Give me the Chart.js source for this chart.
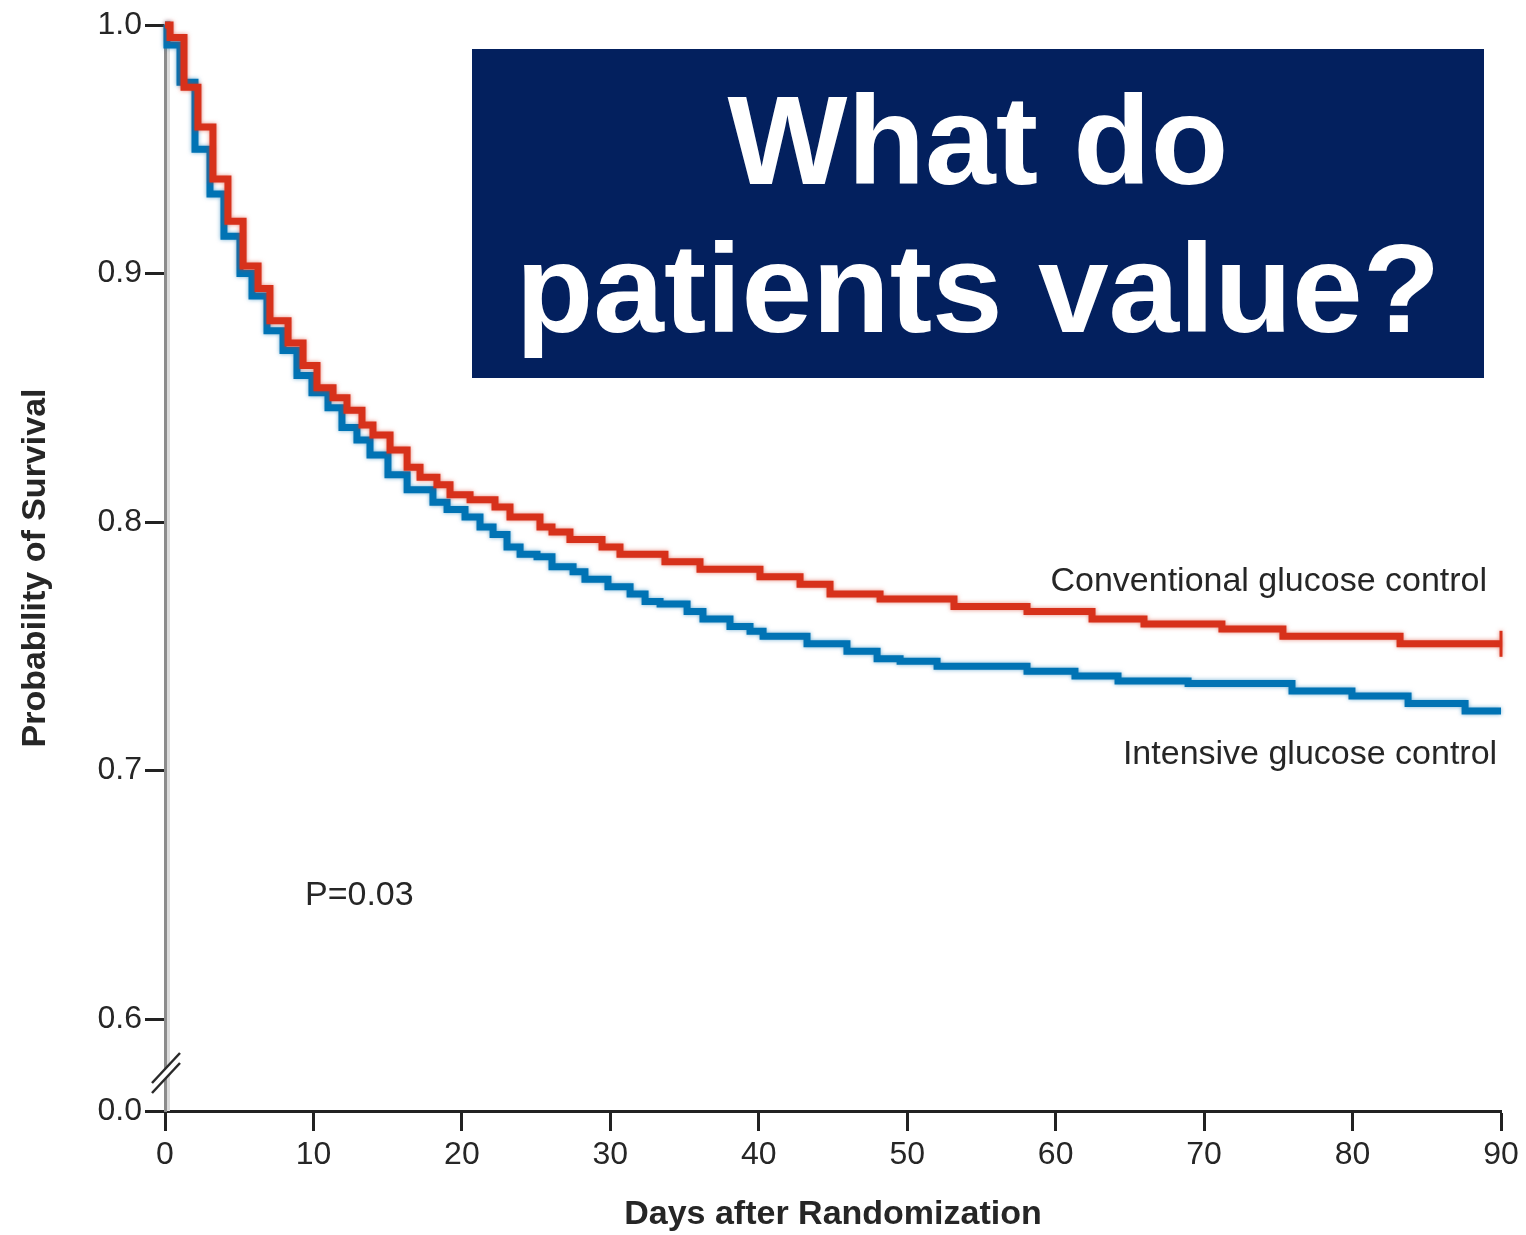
<!DOCTYPE html>
<html><head><meta charset="utf-8">
<script src="https://cdn.jsdelivr.net/npm/chart.js@4.4.1/dist/chart.umd.min.js"></script>
<style>html,body{margin:0;padding:0;background:#fff;overflow:hidden}#wrap{position:relative;width:1526px;height:1235px}</style>
</head><body><div id="wrap"><canvas id="c" width="1526" height="1235"></canvas></div>
<script>
// ---- data ----
const seriesNames = ["Conventional glucose control", "Intensive glucose control"];
const conventionalDays = [0,0.34,1.28,2.22,3.23,4.24,5.26,6.27,7.07,8.29,9.30,10.24,11.32,12.26,13.27,14.01,15.16,16.31,17.18,18.32,19.20,20.55,22.23,23.24,25.26,26.07,27.28,29.44,30.65,33.68,36.04,40.08,42.78,44.80,48.17,53.15,58.07,62.45,65.95,71.20,75.31,83.20,90];
const conventionalSurvival = [1.000,0.995,0.975,0.959,0.938,0.921,0.903,0.894,0.881,0.872,0.863,0.854,0.850,0.845,0.839,0.835,0.829,0.822,0.818,0.815,0.811,0.809,0.806,0.802,0.798,0.796,0.793,0.790,0.787,0.784,0.781,0.778,0.775,0.771,0.769,0.766,0.764,0.761,0.759,0.757,0.754,0.751,0.751];
const intensiveDays = [0,0.13,1.01,2.02,3.03,3.97,5.05,5.86,6.87,7.95,8.89,9.90,10.98,11.92,12.93,13.81,15.02,16.31,18.05,19.00,20.21,21.22,22.10,23.04,23.92,25.06,26.07,27.49,28.29,29.84,31.33,32.34,33.35,35.17,36.24,38.06,39.41,40.29,43.25,45.94,47.97,49.52,52.01,58.07,61.30,64.20,68.92,75.92,79.96,83.74,87.58,90];
const intensiveSurvival = [1.000,0.992,0.977,0.950,0.932,0.915,0.900,0.891,0.877,0.869,0.859,0.852,0.846,0.838,0.833,0.827,0.819,0.813,0.808,0.805,0.802,0.798,0.795,0.790,0.787,0.786,0.782,0.780,0.777,0.774,0.771,0.768,0.767,0.764,0.761,0.758,0.756,0.754,0.751,0.748,0.745,0.744,0.742,0.740,0.738,0.736,0.735,0.732,0.730,0.727,0.724,0.724];
const xTickLabels = ["0","10","20","30","40","50","60","70","80","90"];
const yTickLabels = ["0.0","0.6","0.7","0.8","0.9","1.0"];
const xTitle = "Days after Randomization";
const yTitle = "Probability of Survival";
const pValueText = "P=0.03";
const headlineLines = ["What do", "patients value?"];

// ---- styling ----
const RED = '#d7311b', BLUE = '#0073b4';
const AXIS_BREAK = 0.563;       // where the broken axis shows "0.0"
const TXT = '#262626';
const FONT = '"Liberation Sans", Arial, sans-serif';

function pts(xs, ys){ return xs.map((d,i)=>({x:d, y:ys[i]})); }

const overlay = {
  id: 'overlay',
  beforeDatasetsDraw(chart){
    const {ctx, chartArea:a} = chart;
    ctx.save();
    ctx.strokeStyle = '#dcdcdc'; ctx.lineWidth = 3;
    ctx.beginPath(); ctx.moveTo(a.left+3.5, a.top); ctx.lineTo(a.left+3.5, a.bottom); ctx.stroke();
    ctx.restore();
  },
  beforeDatasetDraw(chart, args){
    const ctx = chart.ctx; ctx.save();
    ctx.shadowColor = args.index === 0 ? 'rgba(215,49,27,0.55)' : 'rgba(0,115,180,0.55)';
    ctx.shadowBlur = 4;
  },
  afterDatasetDraw(chart){ chart.ctx.restore(); },
  afterDraw(chart){
    const {ctx, scales:{x, y}, chartArea:a} = chart;
    ctx.save();
    // axis break marks
    const cx = a.left + 1, cy = y.getPixelForValue(AXIS_BREAK) - 39;
    ctx.fillStyle = '#fff';
    ctx.beginPath();
    ctx.moveTo(cx-14, cy+11); ctx.lineTo(cx+14, cy-19); ctx.lineTo(cx+14, cy-9); ctx.lineTo(cx-14, cy+21); ctx.closePath(); ctx.fill();
    ctx.strokeStyle = '#2a2a2a'; ctx.lineWidth = 2.5;
    ctx.beginPath(); ctx.moveTo(cx-14, cy+11); ctx.lineTo(cx+14, cy-19); ctx.stroke();
    ctx.beginPath(); ctx.moveTo(cx-14, cy+21); ctx.lineTo(cx+14, cy-9); ctx.stroke();
    // series labels and p value
    ctx.fillStyle = TXT; ctx.font = '34px ' + FONT; ctx.textBaseline = 'alphabetic';
    ctx.textAlign = 'right';
    ctx.fillText(seriesNames[0], x.getPixelForValue(89.06), y.getPixelForValue(0.7722));
    ctx.fillText(seriesNames[1], x.getPixelForValue(89.74), y.getPixelForValue(0.7026));
    ctx.textAlign = 'left';
    ctx.fillText(pValueText, x.getPixelForValue(9.43), y.getPixelForValue(0.6459));
    // headline box
    ctx.fillStyle = '#03205e';
    ctx.fillRect(472, 49, 1012, 329);
    ctx.fillStyle = '#ffffff';
    ctx.font = 'bold 127px ' + FONT;
    ctx.textAlign = 'center';
    ctx.fillText(headlineLines[0], 978, 184);
    ctx.fillText(headlineLines[1], 978, 332);
    ctx.restore();
  }
};

new Chart(document.getElementById('c'), {
  type: 'line',
  data: { datasets: [
    { label: seriesNames[0], data: pts(conventionalDays, conventionalSurvival),
      borderColor: RED, backgroundColor: RED, borderWidth: 7, stepped: 'before', fill: false,
      pointStyle: 'line', rotation: 90, pointBorderColor: RED, pointBorderWidth: 3,
      pointRadius: c => c.dataIndex === conventionalDays.length - 1 ? 13 : 0, pointHoverRadius: 0, clip: 12 },
    { label: seriesNames[1], data: pts(intensiveDays, intensiveSurvival),
      borderColor: BLUE, backgroundColor: BLUE, borderWidth: 7, stepped: 'before', fill: false,
      pointRadius: 0, pointHoverRadius: 0, clip: 12 }
  ]},
  options: {
    responsive: false, animation: false, devicePixelRatio: 1,
    layout: { padding: { left: 0, top: 25, right: 25, bottom: 0 } },
    plugins: { legend: { display: false }, tooltip: { enabled: false } },
    scales: {
      x: {
        type: 'linear', min: 0, max: 90,
        afterBuildTicks: s => { s.ticks = xTickLabels.map(l => ({ value: parseFloat(l) })); },
        afterFit: s => { s.height = 124; },
        ticks: { callback: (v, i) => xTickLabels[i], color: TXT, padding: 5, maxRotation: 0, autoSkip: false,
                 font: { family: FONT, size: 32 } },
        grid: { drawOnChartArea: false, drawTicks: true, tickLength: 20, tickColor: '#222', tickWidth: 3 },
        border: { display: true, color: '#222', width: 3 },
        title: { display: true, text: xTitle, color: TXT, font: { family: FONT, size: 34, weight: 'bold' }, padding: { top: 0, bottom: 0 } }
      },
      y: {
        type: 'linear', min: AXIS_BREAK, max: 1.0,
        afterBuildTicks: s => { s.ticks = yTickLabels.map(l => ({ value: parseFloat(l) === 0 ? AXIS_BREAK : parseFloat(l) })); },
        afterFit: s => { s.width = 165; },
        ticks: { callback: (v, i) => yTickLabels[i], color: TXT, padding: 3, autoSkip: false,
                 font: { family: FONT, size: 32 } },
        grid: { drawOnChartArea: false, drawTicks: true, tickLength: 20, tickColor: '#222', tickWidth: 3 },
        border: { display: true, color: '#8c8c8c', width: 3 },
        title: { display: true, text: yTitle, color: TXT, font: { family: FONT, size: 34, weight: 'bold' }, padding: { top: 15, bottom: 0 } }
      }
    }
  },
  plugins: [overlay]
});
</script></body></html>
